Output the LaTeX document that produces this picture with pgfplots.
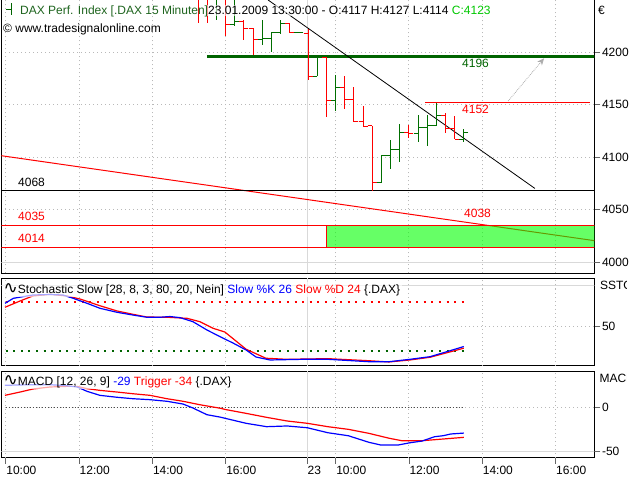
\documentclass[border=0pt]{standalone}
\usepackage{pgfplots}
\pgfplotsset{compat=1.18}
\usepackage{pgfplotstable}
\usepackage{fontspec}
\setmainfont{Liberation Sans}
\newfontfamily\dejavu{DejaVu Sans}
\usetikzlibrary{arrows.meta}

\definecolor{dgreen}{RGB}{0,100,0}
\definecolor{bargreen}{RGB}{0,110,0}
\definecolor{titlegreen}{RGB}{30,100,30}
\definecolor{brightgreen}{RGB}{0,200,0}

\pgfdeclareplotmark{openL}{\pgfpathmoveto{\pgfqpoint{-\pgfplotmarksize}{0pt}}\pgfpathlineto{\pgfqpoint{0pt}{0pt}}\pgfusepathqstroke}
\pgfdeclareplotmark{closeR}{\pgfpathmoveto{\pgfqpoint{\pgfplotmarksize}{0pt}}\pgfpathlineto{\pgfqpoint{0pt}{0pt}}\pgfusepathqstroke}

% OHLC bars, x in hours (day 1: h-10, day 2: h-1)
\pgfplotstableread{
x O H L C
5.25 4262 4270 4227.6 4255
5.5 4255 4262 4227.3 4252
6.0 4258 4262 4215.5 4226
6.5 4229 4230.5 4211.4 4222.5
6.75 4222.5 4222.5 4197.1 4212.1
7.75 4227.3 4227.3 4218.4 4218.7
8.25 4217.8 4221.6 4173.3 4177.1
8.75 4194.9 4194.9 4138.4 4153.7
9.25 4166.3 4177.1 4145.4 4154.3
9.5 4154.3 4166.3 4133.7 4133.7
9.75 4133.7 4148.6 4128.9 4128.9
10.0 4129.5 4129.5 4068 4075.6
11.0 4123.2 4130.5 4117.8 4122.5
12.0 4139.4 4142.2 4123.2 4127.3
12.25 4127.3 4139 4116.8 4116.8
}\redbars
\pgfplotstableread{
x O H L C
5.75 4252 4265 4230.5 4258
6.25 4226 4262 4225.7 4229
7.0 4211.5 4230.5 4206.7 4212.5
7.25 4212.5 4219.4 4200.3 4218.4
7.5 4218.4 4230.5 4217.8 4227.3
8.0 4218.6 4218.8 4218.4 4218.7
8.5 4177.1 4195.6 4177.1 4194.9
9.0 4153.7 4178.1 4144.1 4166.3
10.25 4075.6 4101.9 4075.6 4101.3
10.5 4101.3 4116.2 4088.3 4106.7
10.75 4106.7 4131.4 4095.6 4123.2
11.25 4122.5 4140 4114.6 4127.9
11.5 4127.9 4140 4110.8 4129.8
11.75 4129.8 4151.7 4129.8 4139.4
12.5 4117 4127 4114 4123
}\greenbars
\pgfplotstableread{
x K
-0.02 78.4
0.21 84.5
0.74 88.5
1.21 89.1
1.56 88.5
1.84 84.5
2.22 78.4
2.57 72.4
3.04 67.5
3.47 64.2
3.85 61.5
4.21 61.5
4.48 62.4
4.76 61.0
5.11 56.1
5.49 46.1
5.85 37.9
6.2 30.3
6.56 21.8
6.83 13.3
7.21 9.7
8.11 10.5
8.79 10.5
9.45 8.8
9.91 7.6
10.46 7.6
11.03 10.5
11.58 13.7
12.04 19.8
12.5 26
}\stochK
\pgfplotstableread{
x D
-0.02 73.6
0.39 81.2
0.74 87.3
1.21 89.3
1.67 87.3
2.03 83.6
2.57 75.5
3.04 69.1
3.47 65.1
3.85 61.8
4.4 61.5
4.95 60.2
5.3 56.1
5.66 48.1
5.98 43.6
6.56 22.7
7.1 11.8
7.67 10.5
8.79 11.3
9.91 8.8
10.46 7.3
11.03 9.7
11.58 13.0
12.04 18.5
12.5 24
}\stochD
\pgfplotstableread{
x M
-0.02 24.8
0.74 25.5
1.21 25.5
1.67 24.3
1.95 22.9
2.22 18.0
2.57 13.5
3.04 11.3
3.47 9.7
3.94 8.6
4.4 6.8
4.84 3.7
5.11 -0.8
5.49 -8.3
5.85 -11.0
6.0 -12.5
6.56 -18.0
7.12 -21.8
7.68 -21.0
8.23 -23.0
8.79 -28.6
9.35 -32.0
9.91 -39.4
10.24 -42.5
10.7 -42.5
11.03 -39.9
11.36 -38.0
11.7 -33.1
11.93 -32.0
12.15 -30.0
12.5 -29.0
}\macd
\pgfplotstableread{
x T
-0.02 13.5
0.39 17.2
0.74 20.6
1.21 22.9
1.67 23.6
1.95 23.6
2.22 21.0
2.57 19.1
3.04 17.2
3.47 15.3
3.94 13.5
4.4 9.7
4.84 6.8
5.3 2.9
5.85 -1.0
6.0 -2.5
6.56 -6.8
7.12 -11.3
7.68 -15.4
8.23 -18.0
8.79 -21.8
9.35 -24.8
9.91 -29.3
10.47 -34.9
10.81 -37.6
11.36 -37.6
11.93 -35.7
12.5 -33.8
}\trigger

\tikzset{
 vgrid/.style={gray!55, line width=0.8pt, dash pattern=on 1pt off 3pt},
 daygrid/.style={gray!30, line width=0.8pt},
}
\pgfplotsset{
 panel/.style={
  scale only axis, width=593pt, anchor=south west,
  xmin=-0.12, xmax=16.06,
  axis line style={black, line width=1pt},
  tick align=outside, major tick length=6pt,
  tick style={gray!80!black, line width=0.6pt},
  ytick pos=right, yticklabel pos=right,
  yticklabel style={anchor=west, inner sep=0pt, xshift=1.5pt},
  ymajorgrids,
  major grid style={gray!55, line width=0.8pt, dash pattern=on 1pt off 3pt},
  clip=true,
 },
 ohlc/.style={only marks, mark size=4.5pt, line width=1pt},
}
\newcommand{\wave}{{\dejavu\fontsize{17}{17}\selectfont ∿}}

\begin{document}
\fontsize{12}{14}\selectfont
\begin{tikzpicture}[x=1pt,y=1pt]
\coordinate (mainSW) at (1.3,206.7);
\coordinate (stochSW) at (1.3,114.5);
\coordinate (macdSW) at (1.3,22.5);

% ---------- main price panel ----------
\begin{axis}[panel, at={(mainSW)}, height=273.3pt,
  ymin=3989.2, ymax=4249.5, xtick=\empty,
  ytick={4000,4050,4100,4150,4200}, yticklabels={4000,4050,4100,4150,4200}]
\pgfplotsinvokeforeach{0,2,4,6,9,11,13,15}{\draw[vgrid] (axis cs:#1,3989.2) -- (axis cs:#1,4249.5);}
\draw[daygrid] (axis cs:8.22,3989.2) -- (axis cs:8.22,4249.5);
\addplot[gray!30, line width=0.8pt] coordinates {(-0.2,4000) (16.2,4000)};
\addplot[red, line width=1pt] coordinates {(-0.12,4101.2) (16.06,4020.3)};
\addplot[draw=none, fill=green, fill opacity=0.6] coordinates {(8.75,4014) (16.2,4014) (16.2,4035) (8.75,4035) (8.75,4014)};
\addplot[red, line width=1.1pt] coordinates {(-0.2,4035) (16.2,4035)};
\addplot[red, line width=1.1pt] coordinates {(-0.2,4014) (16.2,4014)};
\addplot[red, line width=1pt] coordinates {(8.75,4014) (8.75,4035)};
\addplot[black, line width=1.4pt] coordinates {(-0.2,4068) (16.2,4068)};
\addplot[dgreen, line width=3pt] coordinates {(5.49,4196) (16.2,4196)};
\addplot[red, line width=1.3pt] coordinates {(11.45,4152) (15.95,4152)};
\addplot[black, line width=0.8pt] coordinates {(7.16,4249.5) (14.44,4070)};
\addplot[gray!65, line width=0.8pt, densely dotted, -{Stealth[length=7pt,width=6pt]}] coordinates {(13.71,4153.3) (14.69,4194)};
% bars
\addplot[red, ohlc, mark=openL, error bars/.cd, y dir=both, y explicit, error mark=none, error bar style={red, line width=1pt}]
  table[x=x, y=O, y error plus expr={\thisrow{H}-\thisrow{O}}, y error minus expr={\thisrow{O}-\thisrow{L}}]{\redbars};
\addplot[red, ohlc, mark=closeR] table[x=x, y=C]{\redbars};
\addplot[bargreen, ohlc, mark=openL, error bars/.cd, y dir=both, y explicit, error mark=none, error bar style={bargreen, line width=1pt}]
  table[x=x, y=O, y error plus expr={\thisrow{H}-\thisrow{O}}, y error minus expr={\thisrow{O}-\thisrow{L}}]{\greenbars};
\addplot[bargreen, ohlc, mark=closeR] table[x=x, y=C]{\greenbars};
\end{axis}

% ---------- stochastic panel ----------
\begin{axis}[panel, at={(stochSW)}, height=87pt, xtick=\empty,
  ymin=3, ymax=108.5, ytick={50}, yticklabels={50}]
\pgfplotsinvokeforeach{0,2,4,6,9,11,13,15}{\draw[vgrid] (axis cs:#1,3) -- (axis cs:#1,108.5);}
\draw[daygrid] (axis cs:8.22,3) -- (axis cs:8.22,108.5);
\addplot[gray!30, line width=0.8pt] coordinates {(-0.2,100) (16.2,100)};
\addplot[red, line width=2pt, dash pattern=on 2pt off 5.6pt] coordinates {(0,80) (12.5,80)};
\addplot[dgreen, line width=2pt, dash pattern=on 2pt off 5.6pt] coordinates {(0,20) (12.5,20)};
\addplot[red, line width=1.2pt] table[x=x, y=D]{\stochD};
\addplot[blue, line width=1.2pt] table[x=x, y=K]{\stochK};
\end{axis}

% ---------- MACD panel ----------
\begin{axis}[panel, at={(macdSW)}, height=86.5pt,
  ymin=-56.5, ymax=40.9, ytick={-50,0}, yticklabels={-50,0},
  xtick pos=bottom, xtick={0,2,4,6,8.22,9,11,13,15},
  xticklabels={10:00,12:00,14:00,16:00,23,10:00,12:00,14:00,16:00},
  xticklabel style={anchor=north west, inner sep=0pt, xshift=0.5pt, yshift=-2pt}]
\pgfplotsinvokeforeach{0,2,4,6,9,11,13,15}{\draw[vgrid] (axis cs:#1,-56.5) -- (axis cs:#1,40.9);}
\draw[daygrid] (axis cs:8.22,-56.5) -- (axis cs:8.22,40.9);
\addplot[gray!30, line width=0.8pt] coordinates {(-0.2,-50) (16.2,-50)};
\addplot[gray!60!black, line width=0.7pt, dash pattern=on 0.8pt off 2.2pt] coordinates {(0,0) (12.5,0)};
\addplot[red, line width=1.2pt] table[x=x, y=T]{\trigger};
\addplot[blue, line width=1.2pt] table[x=x, y=M]{\macd};
\end{axis}

% ---------- texts ----------
\draw[dgreen, line width=1pt] (11.7,476.7) -- (11.7,465) (6,470) -- (11.7,470);
\node[anchor=base west, inner sep=0pt, text=titlegreen] at (20,465.5) {DAX Perf. Index [.DAX 15 Minuten]};
\node[anchor=base west, inner sep=1pt, fill=white, fill opacity=0.6, text opacity=1] at (207,465.5) {23.01.2009 13:30:00 - O:4117 H:4127 L:4114 \textcolor{brightgreen}{C:4123}};
\node[anchor=base west, inner sep=0pt] at (3,447.5) {\textcopyright{} www.tradesignalonline.com};
\node[anchor=base west, inner sep=0pt] at (598,465.5) {€};

\node[anchor=base west, inner sep=0pt, text=dgreen] at (462,412.4) {4196};
\node[anchor=base west, inner sep=0pt, text=red] at (462,366.4) {4152};
\node[anchor=base west, inner sep=0pt] at (18,293) {4068};
\node[anchor=base west, inner sep=0pt, text=red] at (18,259) {4035};
\node[anchor=base west, inner sep=0pt, text=red] at (18,237.4) {4014};
\node[anchor=base west, inner sep=0pt, text=red] at (464,262.4) {4038};

\node[anchor=base west, inner sep=1.5pt, fill=white, fill opacity=0.65, text opacity=1] at (2,187) {\wave{}Stochastic Slow [28, 8, 3, 80, 20, Nein] \textcolor{blue}{Slow \%K 26} \textcolor{red}{Slow \%D 24} \{.DAX\}};
\node[anchor=base west, inner sep=1.5pt, fill=white, fill opacity=0.65, text opacity=1] at (2,95) {\wave{}MACD [12, 26, 9] \textcolor{blue}{-29} \textcolor{red}{Trigger -34} \{.DAX\}};

\begin{scope}
\clip (590,0) rectangle (626,480);
\node[anchor=base west, inner sep=0pt] at (600,190.7) {SSTO};
\node[anchor=base west, inner sep=0pt] at (599.3,97.4) {MACD};
\end{scope}

\pgfresetboundingbox
\path[use as bounding box] (0,0) rectangle (640,480);
\end{tikzpicture}
\end{document}
